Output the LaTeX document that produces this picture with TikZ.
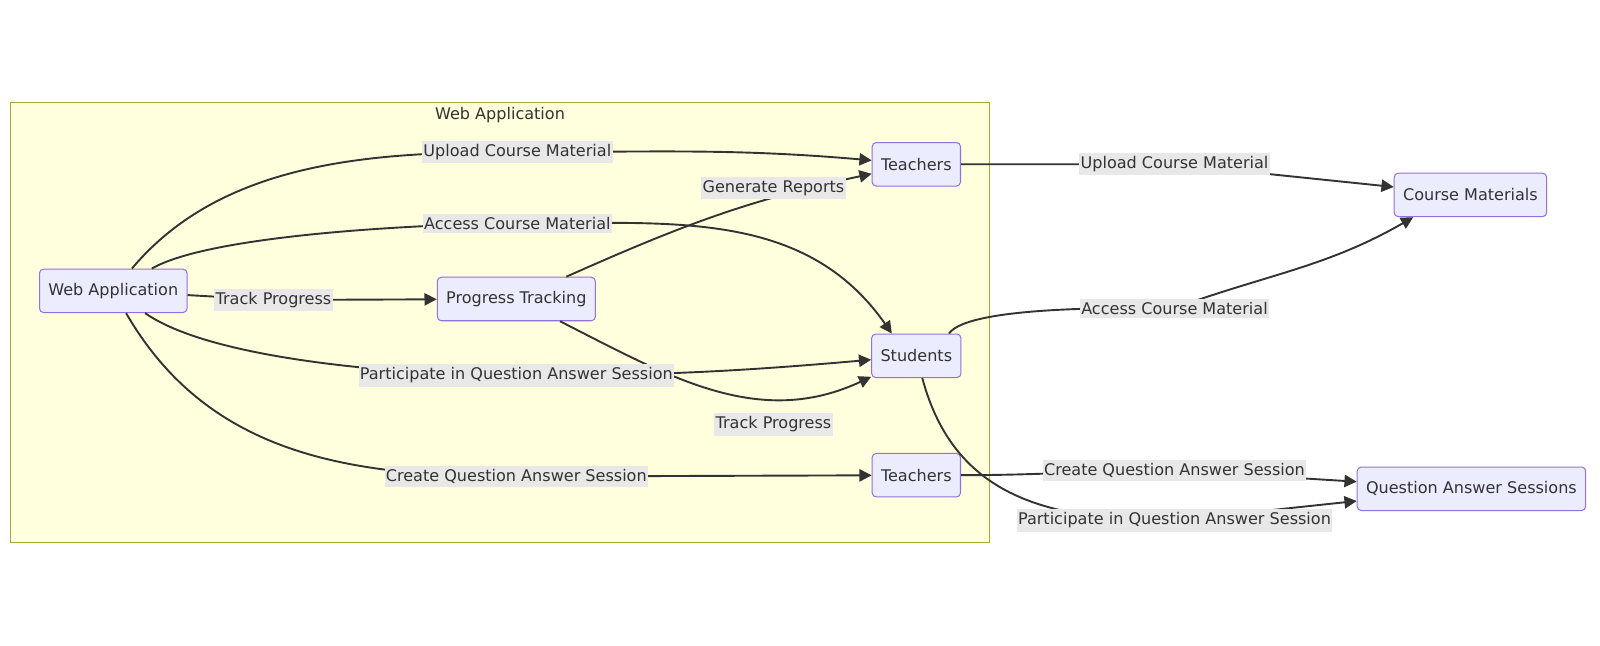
\documentclass[tikz,border=0pt]{standalone}
\usepackage{fontspec}
\setmainfont{DejaVu Sans}
\usetikzlibrary{arrows.meta,positioning}
\definecolor{nodefill}{HTML}{ECECFF}
\definecolor{nodeline}{HTML}{9370DB}
\definecolor{groupfill}{HTML}{FFFFDE}
\definecolor{groupline}{HTML}{AAAA33}
\definecolor{inkgray}{HTML}{333333}
\definecolor{labelfill}{HTML}{E8E8E8}

\begin{document}
\begin{tikzpicture}[x=0.75pt, y=0.75pt, font=\fontsize{11.8}{13}\selectfont, text=inkgray,
    block/.style={rectangle, rounded corners=3pt, draw=nodeline, fill=nodefill, line width=0.75pt, minimum height=32pt, inner xsep=6.5pt},
    lbl/.style={fill=labelfill, inner xsep=1pt, inner ysep=2.5pt},
    arrow/.style={-{Triangle[length=9pt,width=9pt]}, draw=inkgray, line width=1.4pt}]

    \useasboundingbox (0,0) rectangle (1568,-633);
    \draw[groupline, fill=groupfill, line width=0.75pt] (10,-100) rectangle (970,-532);
    \node (grouptitle) at (490,-113) {Web Application};

    \node[block] (web) at (111,-285) {Web Application};
    \node[block] (prog) at (506,-293) {Progress Tracking};
    \node[block] (teachA) at (898,-161) {Teachers};
    \node[block, below=108pt of teachA] (stud) {Students};
    \node[block, below=55pt of stud] (teachB) {Teachers};
    \node[block] (course) at (1441,-191) {Course Materials};
    \node[block] (qas) at (1442,-479) {Question Answer Sessions};

    % where the edge labels sit
    \coordinate (upApt) at (507,-149);
    \coordinate (acApt) at (507,-219);
    \coordinate (trApt) at (268,-294);
    \coordinate (paApt) at (506,-368);
    \coordinate (crApt) at (506,-467);
    \coordinate (upBpt) at (1151,-161);
    \coordinate (acBpt) at (1151,-302);
    \coordinate (crBpt) at (1151,-461);
    \coordinate (paBpt) at (1151,-510);

    \draw[arrow] (web) to[out=50,in=180,looseness=0.9] (upApt) to[out=0,in=175] (teachA);
    \draw[arrow] (web) to[out=30,in=180,looseness=0.5] (acApt) to[out=0,in=125] ([xshift=-18pt]stud.north);
    \draw[arrow] (web) -- (trApt) -- (prog);
    \draw[arrow] (web) to[out=-35,in=180,looseness=0.6] (paApt) to[out=0,in=185] (stud);
    \draw[arrow] (web) to[out=-60,in=180] (crApt) -- (teachB);
    \draw[arrow] (prog) to[out=24,in=192] (teachA);
    \draw[arrow] (prog) to[out=-27,in=205] (stud);
    \draw[arrow] (teachA) -- (upBpt) -- (course);
    \draw[arrow] ([xshift=24pt]stud.north) to[out=55,in=180,looseness=0.4] (acBpt) to[out=20,in=210] ([xshift=-42pt]course.south);
    \draw[arrow] (teachB) to[out=0,in=180] (crBpt) -- (qas);
    \draw[arrow] (stud) to[out=-75,in=180,looseness=1.1] (paBpt) -- (qas);

    % edge labels
    \node[lbl] (upA) at (upApt) {Upload Course Material};
    \node[lbl] (acA) at (acApt) {Access Course Material};
    \node[lbl] (trA) at (trApt) {Track Progress};
    \node[lbl] (paA) at (paApt) {Participate in Question Answer Session};
    \node[lbl] (crA) at (crApt) {Create Question Answer Session};
    \node[lbl] (genR) at (758,-184) {Generate Reports};
    \node[lbl] (trB) at (758,-416) {Track Progress};
    \node[lbl] (upB) at (upBpt) {Upload Course Material};
    \node[lbl] (acB) at (acBpt) {Access Course Material};
    \node[lbl] (crB) at (crBpt) {Create Question Answer Session};
    \node[lbl] (paB) at (paBpt) {Participate in Question Answer Session};
\end{tikzpicture}
\end{document}
